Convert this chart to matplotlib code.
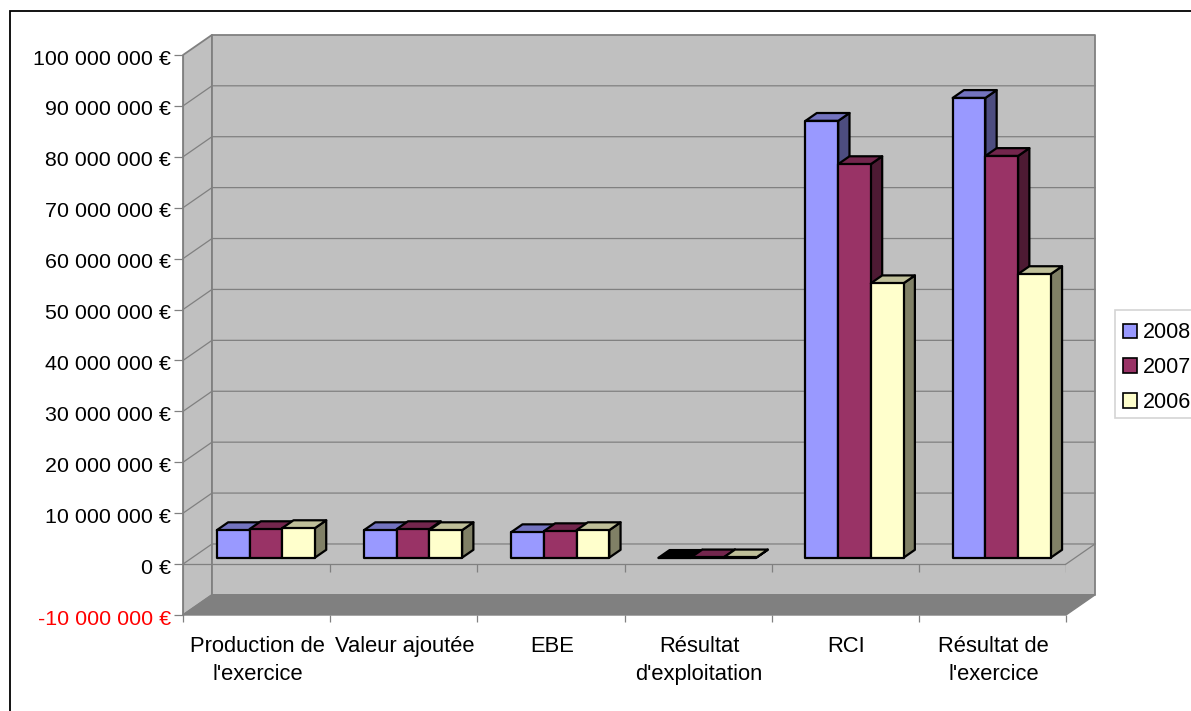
import matplotlib
matplotlib.use("Agg")
import matplotlib.pyplot as plt
from matplotlib.patches import Polygon, Rectangle, Patch
from matplotlib.colors import to_rgb
from matplotlib.transforms import ScaledTranslation

plt.rcParams['font.family'] = ['Liberation Sans', 'DejaVu Sans']

# Data
categories = ["Production de\nl'exercice", "Valeur ajoutée", "EBE",
              "Résultat\nd'exploitation", "RCI", "Résultat de\nl'exercice"]
series_names = ["2008", "2007", "2006"]
values_2008 = [5400000, 5400000, 5000000, -50000, 85800000, 90300000]
values_2007 = [5600000, 5600000, 5200000, 50000, 77300000, 78900000]
values_2006 = [5800000, 5400000, 5400000, 50000, 53900000, 55700000]
series_colors = ["#9999ff", "#993366", "#ffffcc"]
y_ticks = [-10000000, 0, 10000000, 20000000, 30000000, 40000000, 50000000,
           60000000, 70000000, 80000000, 90000000, 100000000]

# Figure, the axes is the front plane of the 3D box
W = 1191
H = 711
fig = plt.figure(figsize=(W/100, H/100), dpi=100)
ax = fig.add_axes([183/W, 1-615/H, (1066-183)/W, (615-55)/H])
ax.set_xlim(0, 6)
ax.set_ylim(-10000000, 100000000)
ax.set_facecolor("none")

# Depth of the box, in data units
depth_x = 29/147.17
depth_y = 3950000


def proj(x, v, d):
    return (x + d*depth_x, v + d*depth_y)


def shade(color, f):
    return tuple(c*f for c in to_rgb(color))


def poly(points, color, edge, lw, z):
    ax.add_patch(Polygon(points, closed=True, facecolor=color, edgecolor=edge,
                         linewidth=lw, joinstyle="round", clip_on=False, zorder=z))


ymin = y_ticks[0]
ymax = y_ticks[-1]
wall = "#c0c0c0"
dark = "#808080"

# Walls and floor
poly([proj(0, ymin, 0), proj(0, ymax, 0), proj(0, ymax, 1), proj(0, ymin, 1)], wall, dark, 1.3, 1)
poly([proj(0, ymin, 1), proj(0, ymax, 1), proj(6, ymax, 1), proj(6, ymin, 1)], wall, dark, 1.3, 1)
poly([proj(0, ymin, 0), proj(6, ymin, 0), proj(6, ymin, 1), proj(0, ymin, 1)], dark, dark, 1, 2)

# Grid lines
for t in y_ticks[1:-1]:
    p0 = proj(0, t, 0)
    p1 = proj(0, t, 1)
    p2 = proj(6, t, 1)
    ax.plot([p0[0], p1[0], p2[0]], [p0[1], p1[1], p2[1]], color=dark, lw=0.9, zorder=3, clip_on=False)

# Zero line with its category ticks
p0 = proj(6, 0, 0)
p1 = proj(6, 0, 1)
ax.plot([0, 6], [0, 0], color=dark, lw=0.9, zorder=3)
ax.plot([p0[0], p1[0]], [p0[1], p1[1]], color=dark, lw=0.9, zorder=3, clip_on=False)
ax.vlines(range(1, 7), -1500000, 0, color=dark, lw=0.9, zorder=3)

# Bars
bar_w = 0.2222
d_front = 0.32
d_back = 0.71
all_values = [values_2008, values_2007, values_2006]
for i in range(len(categories)):
    for s in range(3):
        v = all_values[s][i]
        c = series_colors[s]
        x0 = i + 0.5 - 1.5*bar_w + s*bar_w
        x1 = x0 + bar_w
        z = 5 + i*3 + s
        # a bar just under zero shows no lit top, only its outline
        top_color = "black" if v < 0 else shade(c, 0.75)
        poly([proj(x1, 0, d_front), proj(x1, v, d_front), proj(x1, v, d_back), proj(x1, 0, d_back)],
             shade(c, 0.5), "black", 1.6, z)
        poly([proj(x0, v, d_front), proj(x1, v, d_front), proj(x1, v, d_back), proj(x0, v, d_back)],
             top_color, "black", 1.6, z)
        poly([proj(x0, 0, d_front), proj(x1, 0, d_front), proj(x1, v, d_front), proj(x0, v, d_front)],
             c, "black", 1.6, z)

# Axes ticks and labels
for side in ["top", "right", "bottom"]:
    ax.spines[side].set_visible(False)
ax.spines["left"].set_color(dark)
ax.spines["left"].set_zorder(4)
ax.set_yticks(y_ticks)
ax.set_yticklabels([f"{t:,}".replace(",", " ") + " €" for t in y_ticks], fontsize=15.4)
ax.tick_params(axis="y", color=dark, length=6.5, width=0.9, pad=2)
for lab in ax.get_yticklabels():
    lab.set_transform(lab.get_transform() + ScaledTranslation(0, -1.5/72, fig.dpi_scale_trans))
ax.get_yticklabels()[0].set_color("red")
ax.set_xticks([i + 0.5 for i in range(6)])
ax.set_xticklabels(categories, fontsize=15.8, linespacing=1.42)
ax.tick_params(axis="x", which="major", length=0, pad=15)
ax.set_xticks(range(7), minor=True)
ax.tick_params(axis="x", which="minor", color=dark, length=5, width=0.9)
for lab in ax.get_xticklabels():
    lab.set_transform(lab.get_transform() + ScaledTranslation(0.7/72, 0, fig.dpi_scale_trans))

# Legend runs off the right edge in the original
fig.add_artist(Rectangle((1115/W, 1-418/H), 0.2, 108/H, transform=fig.transFigure,
                         facecolor="white", edgecolor="#d4d4d4", linewidth=1.2))
handles = [Patch(facecolor=c, edgecolor="black", linewidth=1.2) for c in series_colors]
leg = fig.legend(handles, series_names, loc="upper left", bbox_to_anchor=(1115/W, 1-314.5/H),
                 borderaxespad=0, fontsize=15.5, frameon=False,
                 handlelength=0.65, handleheight=0.65, handletextpad=0.28,
                 labelspacing=0.64, borderpad=0.37)

# Outer frame, only top and left are inside the picture
fig.add_artist(Rectangle((10/W, -0.1), 1.2, 1.1-11/H, transform=fig.transFigure,
                         facecolor="none", edgecolor="black", linewidth=1.3))

fig.savefig("out.png", dpi=100)
